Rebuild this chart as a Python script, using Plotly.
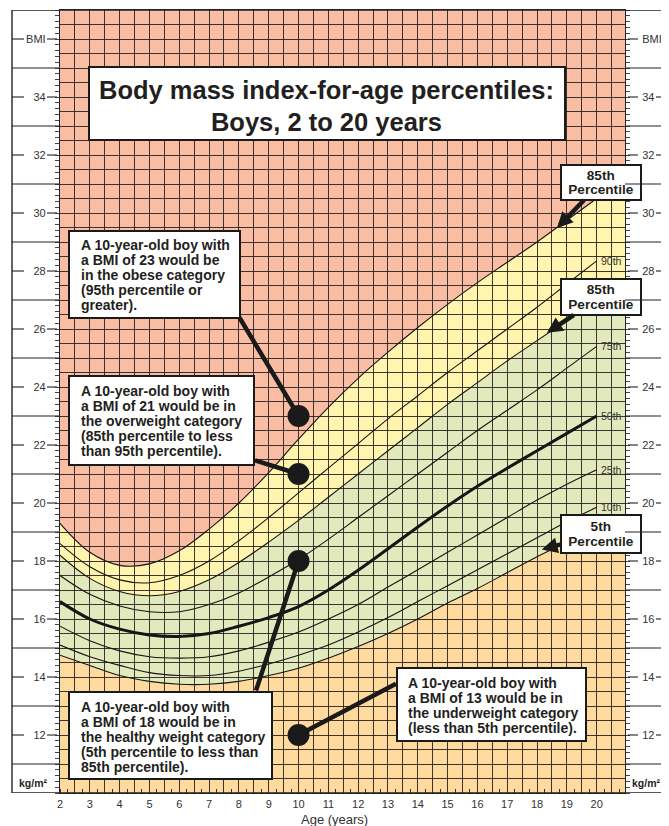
import plotly.graph_objects as go

# ---------------- data ----------------
ages = list(range(2, 21))
p5  = [14.75, 14.4, 14.05, 13.85, 13.75, 13.75, 13.85, 14.05, 14.3, 14.65, 15.05, 15.5, 16.0, 16.55, 17.05, 17.6, 18.15, 18.65, 19.1]
p10 = [15.1, 14.7, 14.4, 14.15, 14.05, 14.05, 14.2, 14.45, 14.75, 15.1, 15.55, 16.05, 16.6, 17.15, 17.7, 18.25, 18.8, 19.35, 19.85]
p25 = [15.75, 15.25, 14.9, 14.7, 14.65, 14.7, 14.9, 15.2, 15.55, 16.0, 16.5, 17.1, 17.7, 18.3, 18.9, 19.5, 20.1, 20.65, 21.15]
p50 = [16.6, 16.0, 15.65, 15.45, 15.4, 15.5, 15.75, 16.05, 16.43, 17.0, 17.68, 18.42, 19.17, 19.9, 20.58, 21.2, 21.8, 22.4, 23.0]
p75 = [17.5, 16.85, 16.45, 16.25, 16.25, 16.5, 16.9, 17.45, 18.05, 18.75, 19.5, 20.25, 21.0, 21.75, 22.5, 23.2, 23.9, 24.65, 25.4]
p85 = [18.2, 17.4, 16.95, 16.8, 16.95, 17.35, 17.95, 18.65, 19.4, 20.2, 21.0, 21.8, 22.6, 23.4, 24.15, 24.9, 25.6, 26.3, 27.0]
p90 = [18.6, 17.8, 17.35, 17.25, 17.5, 18.0, 18.7, 19.5, 20.35, 21.2, 22.05, 22.9, 23.7, 24.5, 25.25, 26.0, 26.75, 27.55, 28.35]
p95 = [19.3, 18.3, 17.85, 17.9, 18.35, 19.1, 20.0, 21.05, 22.2, 23.3, 24.3, 25.2, 26.05, 26.85, 27.6, 28.3, 29.0, 29.75, 30.5]

curve_names = ["5th", "10th", "25th", "50th", "75th", "85th", "90th", "95th"]
curve_vals = [p5, p10, p25, p50, p75, p85, p90, p95]
labelled = ["10th", "25th", "50th", "75th", "90th"]

example_age = [10, 10, 10, 10]
example_bmi = [23, 21, 18, 12]

x_tick_vals = [2 + 0.5 * i for i in range(38)]
x_tick_text = [str(int(v)) if v == int(v) else "" for v in x_tick_vals]
y_grid_vals = [10 + 0.5 * i for i in range(55)]
y_label_vals = [12, 14, 16, 18, 20, 22, 24, 26, 28, 30, 32, 34, 36]
y_label_text = ["12", "14", "16", "18", "20", "22", "24", "26", "28", "30", "32", "34", "BMI"]
y_left_text = [y_label_text[y_label_vals.index(v)] if v in y_label_vals else "" for v in y_grid_vals]

# ---------------- styling / layout (window pixel coordinates) ----------------
X_MIN, X_MAX, Y_MIN, Y_MAX = 2, 20.95, 10, 37
OFF = 8                      # page body margin of the browser
WIN_W, WIN_H = 669, 826
W, H = WIN_W - OFF, WIN_H - OFF
PL, PR, PT, PB = 60, 625, 10, 793
FONT = "Liberation Sans, Arial, Helvetica, sans-serif"
INK = "#231f20"
C_OBESE, C_OVER, C_HEALTHY, C_UNDER = "#F9BDA3", "#FFF5AE", "#E2EABD", "#FFDA9F"
GRID = "rgba(35,28,26,0.88)"


def fx(px):
    return (px - PL) / (PR - PL)


def fy(py):
    return (PB - py) / (PB - PT)


def block(lines, size):
    return "<br>".join("<span style='font-size:%gpx'><b>%s</b></span>" % (size, t) for t in lines)


fig = go.Figure()

# ---- colour bands (subplot x/y, drawn beneath the grid subplot) ----
fig.add_trace(go.Scatter(x=[X_MIN, X_MAX], y=[Y_MAX, Y_MAX], mode="lines", line=dict(width=0),
                         fill="tozeroy", fillcolor=C_OBESE, hoverinfo="skip", showlegend=False,
                         xaxis="x", yaxis="y"))
for vals, col in [(p95, C_OVER), (p85, C_HEALTHY), (p5, C_UNDER)]:
    fig.add_trace(go.Scatter(x=ages, y=vals, mode="lines", line=dict(width=0, shape="spline"),
                             fill="tozeroy", fillcolor=col, hoverinfo="skip", showlegend=False,
                             xaxis="x", yaxis="y"))
    fig.add_trace(go.Scatter(x=[ages[-1], X_MAX], y=[vals[-1], vals[-1]], mode="lines",
                             line=dict(width=0), fill="tozeroy", fillcolor=col,
                             hoverinfo="skip", showlegend=False, xaxis="x", yaxis="y"))

# ---- percentile curves (subplot x2/y2, above its grid) ----
for name, vals in zip(curve_names, curve_vals):
    fig.add_trace(go.Scatter(x=ages, y=vals, mode="lines", name=name,
                             line=dict(color="#151515", width=3 if name == "50th" else 1.1,
                                       shape="spline"),
                             showlegend=False, xaxis="x2", yaxis="y2"))

# ---- example dots ----
fig.add_trace(go.Scatter(x=example_age, y=example_bmi, mode="markers",
                         marker=dict(size=22, color="#1a1a1a"), showlegend=False,
                         xaxis="x2", yaxis="y3"))

ann = []
shapes = []

# percentile end labels
for name, vals in zip(curve_names, curve_vals):
    if name in labelled:
        ann.append(dict(x=ages[-1], y=vals[-1], xref="x2", yref="y2", text=name, showarrow=False,
                        xanchor="left", yanchor="middle", xshift=2,
                        font=dict(family=FONT, size=10.5, color="#333")))

# text boxes (left, top, right, bottom)
boxes = [
    (89, 67, 565, 140),
    (69, 231, 240, 318),
    (69, 376, 254, 465),
    (69, 692, 272, 779),
    (397, 668, 586, 741),
    (561, 165, 641, 200),
    (561, 279, 641, 315),
    (561, 515, 641, 553),
]
for x0, y0, x1, y1 in boxes:
    shapes.append(dict(type="rect", xref="paper", yref="paper", x0=fx(x0), x1=fx(x1),
                       y0=fy(y0), y1=fy(y1), fillcolor="white",
                       line=dict(color="#1a1a1a", width=2), layer="above"))

# (anchor x, centre y, x-anchor, glyph size, line spacing, lines)
text_blocks = [
    (326, 106, "center", 25.5, 32,
     ["Body mass index-for-age percentiles:", "Boys, 2 to 20 years"]),
    (79, 275, "left", 14, 15,
     ["A 10-year-old boy with", "a BMI of 23 would be", "in the obese category",
      "(95th percentile or", "greater)."]),
    (79, 421, "left", 14, 15,
     ["A 10-year-old boy with", "a BMI of 21 would be in", "the overweight category",
      "(85th percentile to less", "than 95th percentile)."]),
    (79, 737, "left", 14, 15,
     ["A 10-year-old boy with", "a BMI of 18 would be in", "the healthy weight category",
      "(5th percentile to less than", "85th percentile)."]),
    (406, 705.5, "left", 14, 15,
     ["A 10-year-old boy with", "a BMI of 13 would be in", "the underweight category",
      "(less than 5th percentile)."]),
]
for x, y, xa, size, spacing, lines in text_blocks:
    ann.append(dict(x=fx(x), y=fy(y), xref="paper", yref="paper", text=block(lines, size),
                    showarrow=False, xanchor=xa, yanchor="middle", align=xa,
                    font=dict(family=FONT, size=spacing / 1.3, color=INK)))

# percentile call-out boxes: text block sized like its box, arrow to the curve
# (tip age, tip BMI, box index, lines)
callouts = [
    (18.67, 29.48, 5, ["85th", "Percentile"]),
    (18.33, 25.87, 6, ["85th", "Percentile"]),
    (18.16, 18.40, 7, ["5th", "Percentile"]),
]
X2_PX = (PR - PL) / (X_MAX - X_MIN)
Y2_PX = (PB - PT) / (Y_MAX - Y_MIN)
for tx, ty, bi, lines in callouts:
    x0, y0, x1, y1 = boxes[bi]
    tip_px = PL + (tx - X_MIN) * X2_PX
    tip_py = PB - (ty - Y_MIN) * Y2_PX
    ann.append(dict(x=tx, y=ty, xref="x2", yref="y2", text=block(lines, 13.6), showarrow=True,
                    ax=(x0 + x1) / 2 - tip_px, ay=(y0 + y1) / 2 - tip_py,
                    xanchor="center", yanchor="middle", align="center", valign="middle",
                    width=x1 - x0, height=y1 - y0, borderpad=0, borderwidth=0,
                    arrowhead=2, arrowsize=0.7, arrowwidth=4.5, arrowcolor="#1a1a1a", standoff=0,
                    font=dict(family=FONT, size=14.6 / 1.3, color=INK)))

# connectors from boxes to dots (pixel offsets of the box end)
connector_offsets = [(-60, -100), (-45, -14), (-43, 131), (99, -52)]
for a, b, (dx, dy) in zip(example_age, example_bmi, connector_offsets):
    ann.append(dict(x=a, y=b, xref="x2", yref="y2", text="", showarrow=True, arrowhead=0,
                    ax=dx, ay=dy, arrowwidth=4.5, arrowcolor="#1a1a1a", standoff=0))

# side panels
PANEL_L, PANEL_R = 12, 666
for v in range(11, 37, 2):
    shapes.append(dict(type="line", xref="paper", yref="y2", x0=fx(PANEL_L), x1=fx(PL), y0=v, y1=v,
                       line=dict(color="#222", width=1.2)))
    shapes.append(dict(type="line", xref="paper", yref="y2", x0=fx(PR), x1=fx(PANEL_R), y0=v, y1=v,
                       line=dict(color="#222", width=1.2)))
for v, t in zip(y_label_vals, y_label_text):
    dashes = [(PANEL_L, 24), (47, 57), (628, 638)]
    if t != "BMI":
        dashes.append((656, PANEL_R))
    for a, b in dashes:
        shapes.append(dict(type="line", xref="paper", yref="y2", x0=fx(a), x1=fx(b), y0=v, y1=v,
                           line=dict(color="#333", width=1.2)))
for v in [Y_MIN, Y_MAX]:
    shapes.append(dict(type="line", xref="paper", yref="y2", x0=fx(PANEL_L), x1=fx(PANEL_R),
                       y0=v, y1=v, line=dict(color="#222", width=1.4)))
shapes.append(dict(type="line", xref="paper", yref="y2", x0=fx(PANEL_L), x1=fx(PANEL_L),
                   y0=Y_MIN, y1=Y_MAX, line=dict(color="#222", width=1.4)))

for x in [33.5, 646]:
    ann.append(dict(x=fx(x), y=fy(783), xref="paper", yref="paper", text="<b>kg/m²</b>",
                    showarrow=False, xanchor="center", yanchor="middle",
                    font=dict(family=FONT, size=10.5, color=INK)))
ann.append(dict(x=fx(334), y=fy(819.5), xref="paper", yref="paper", text="Age (years)",
                showarrow=False, xanchor="center", yanchor="middle",
                font=dict(family=FONT, size=13, color="#333")))

hidden = dict(visible=False, showgrid=False, zeroline=False)
fig.update_layout(
    width=W, height=H,
    margin=dict(l=PL - OFF, r=WIN_W - PR, t=PT - OFF, b=WIN_H - PB, pad=0, autoexpand=False),
    paper_bgcolor="white", plot_bgcolor="rgba(0,0,0,0)",
    showlegend=False,
    xaxis=dict(range=[X_MIN, X_MAX], domain=[0, 1], anchor="y", **hidden),
    yaxis=dict(range=[Y_MIN, Y_MAX], domain=[0, 1], anchor="x", **hidden),
    xaxis2=dict(range=[X_MIN, X_MAX], domain=[0, 1], anchor="y2", tickmode="array",
                tickvals=x_tick_vals, ticktext=x_tick_text, ticks="", showgrid=True,
                gridcolor=GRID, gridwidth=1, zeroline=False, showline=True, mirror=True,
                linecolor="#222", linewidth=1.3, ticklabelstandoff=1, automargin=False,
                tickfont=dict(family=FONT, size=11, color="#333"),
                minor=dict(tick0=2, dtick=0.25, ticks="inside", ticklen=4, tickcolor="#333",
                           showgrid=False)),
    yaxis2=dict(range=[Y_MIN, Y_MAX], domain=[0, 1], anchor="x2", tickmode="array",
                tickvals=y_grid_vals, ticktext=y_left_text, ticks="", showgrid=True,
                gridcolor=GRID, gridwidth=1, zeroline=False, showline=True, mirror=True,
                linecolor="#222", linewidth=1.3, ticklabelstandoff=11, automargin=False,
                tickfont=dict(family=FONT, size=11, color="#333"),
                minor=dict(tick0=10, dtick=0.2, ticks="outside", ticklen=4, tickcolor="#444",
                           showgrid=False)),
    yaxis3=dict(range=[Y_MIN, Y_MAX], anchor="x2", overlaying="y2", side="right",
                tickmode="array", tickvals=y_label_vals, ticktext=y_label_text,
                ticks="outside", ticklen=13, tickcolor="rgba(0,0,0,0)",
                showgrid=False, zeroline=False, showline=False, ticklabelstandoff=1,
                automargin=False,
                tickfont=dict(family=FONT, size=11, color="#333"),
                minor=dict(tick0=10, dtick=0.2, ticks="outside", ticklen=4, tickcolor="#444",
                           showgrid=False)),
    annotations=ann,
    shapes=shapes,
)

fig.write_html("out.html")
